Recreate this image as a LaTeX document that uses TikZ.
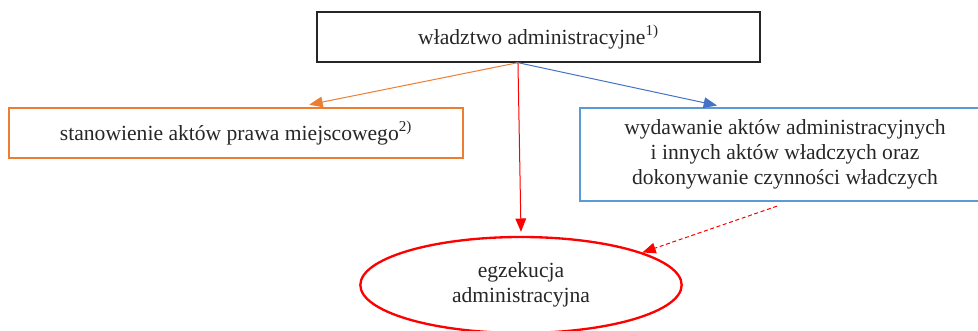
\documentclass[tikz,border=0pt]{standalone}
\usepackage{fontspec}
\setmainfont{Liberation Serif}
\usetikzlibrary{arrows.meta,shapes.geometric}
\definecolor{ornge}{RGB}{237,125,49}
\definecolor{boxblue}{RGB}{91,155,213}
\definecolor{arrblue}{RGB}{68,114,196}
\definecolor{txt}{RGB}{38,38,38}
\tikzset{
  box/.style={draw, line width=1.5pt, align=center, inner sep=0pt, text=txt,
    font=\fontsize{16.2}{18.75}\selectfont},
  tip/.style={-{Triangle[length=10pt,width=8pt]}, line width=0.75pt},
}
\begin{document}
\begin{tikzpicture}[x=0.75pt,y=-0.75pt]
    \useasboundingbox (0,0) rectangle (978,331);
    \node[box, draw=black!85, minimum width=332pt, minimum height=37pt] (wladztwo)
        at (538.5,37) {władztwo administracyjne\textsuperscript{1)}};
    \node[box, draw=ornge, minimum width=340pt, minimum height=37pt] (prawo)
        at (236,133) {stanowienie aktów prawa miejscowego\textsuperscript{2)}};
    \node[box, draw=boxblue, minimum width=307.5pt, minimum height=70pt] (akty)
        at (785,154.5) {wydawanie aktów administracyjnych\\
        i innych aktów władczych oraz\\ dokonywanie czynności władczych};
    \node[box, draw=red, line width=1.75pt, ellipse, minimum width=241pt,
        minimum height=72pt] (egzekucja) at (521,285) {egzekucja\\ administracyjna};
    \coordinate (rozgal) at ([xshift=-15.4pt]wladztwo.south);
    % connectors
    \draw[tip, ornge] (rozgal) -- ([xshift=55pt,yshift=2pt]prawo.north);
    \draw[tip, arrblue] (rozgal) -- ([xshift=-51pt,yshift=1pt]akty.north);
    \draw[tip, red] (rozgal) -- ([yshift=3pt]egzekucja.north);
    \draw[tip, red, dashed, dash pattern=on 3pt off 2pt]
        ([xshift=-6pt,yshift=-3pt]akty.south) -- (egzekucja.15);
\end{tikzpicture}
\end{document}
